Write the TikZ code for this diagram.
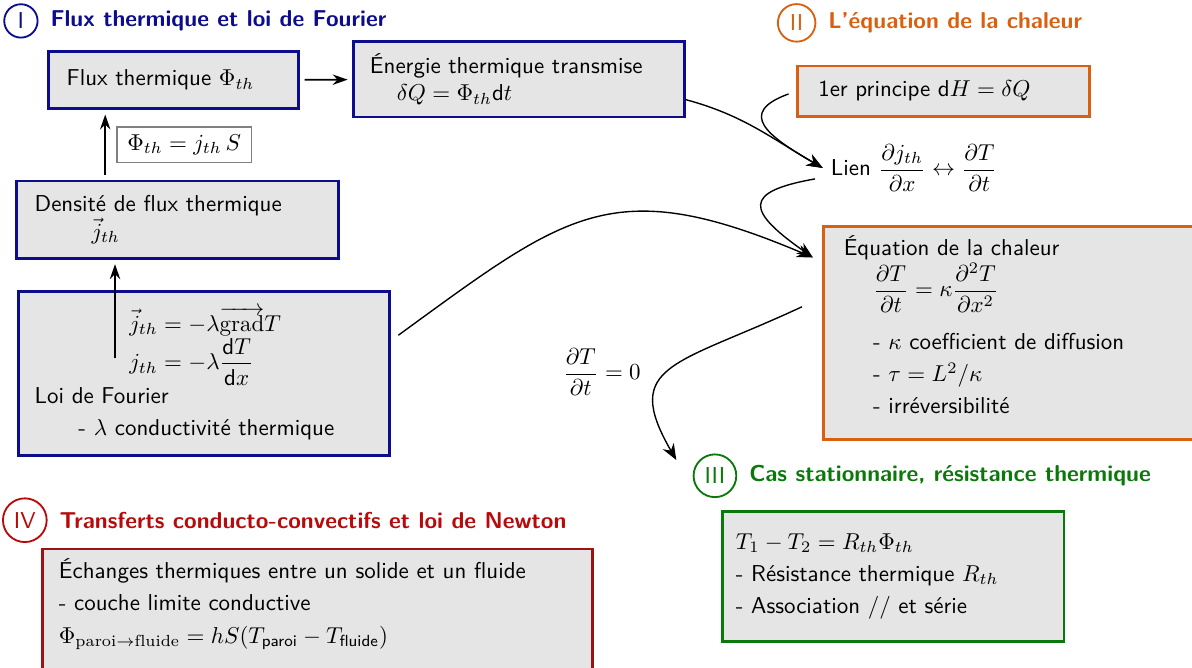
\documentclass[tikz,border=0pt]{standalone}
\usepackage{amsmath}
\usepackage{fontspec}
\renewcommand{\familydefault}{\sfdefault}
\usetikzlibrary{arrows.meta, positioning}
\definecolor{partI}{HTML}{0C0C8C}
\definecolor{partII}{HTML}{D9600F}
\definecolor{partIII}{HTML}{0A780A}
\definecolor{partIV}{HTML}{B80A0A}
\definecolor{bordIV}{HTML}{9A1414}

\begin{document}
\begin{tikzpicture}[
    bloc/.style={draw, fill=gray!20, line width=1.2pt, anchor=north west,
                 align=left, inner xsep=0.25cm, inner ysep=0.15cm},
    numero/.style={circle, draw, thick, inner sep=2.6pt},
    titre/.style={font=\bfseries},
    fleche/.style={-{Stealth[length=6.5pt, width=4.5pt]}, thick, shorten >=2pt, shorten <=2pt},
    courbe/.style={-{Stealth[length=7pt, width=5.5pt]}, semithick},
]
    \useasboundingbox (0,0) rectangle (18.24,-10.21);

    % I : flux thermique et loi de Fourier
    \node[numero, partI] (numI) at (0.32,-0.32) {I};
    \node[titre, partI, right=0.06cm of numI] (titreI) {Flux thermique et loi de Fourier};

    \node[bloc, draw=partI, text width=3.27cm, minimum height=0.87cm, inner xsep=0.28cm]
        (flux) at (0.72,-0.77) {Flux thermique $\Phi_{th}$};
    \node[bloc, draw=partI, text width=4.56cm, minimum height=1.16cm]
        (energie) at (5.39,-0.61)
        {Énergie thermique transmise\\ \hspace*{0.41cm}$\delta Q = \Phi_{th}\mathsf{d}t$};
    \node[bloc, draw=partI, text width=4.37cm, minimum height=1.18cm, inner xsep=0.28cm]
        (densite) at (0.23,-2.75)
        {Densité de flux thermique\\ \hspace*{0.87cm}$\vec{j}_{th}$};
    \node[bloc, draw=partI, text width=5.18cm, minimum height=2.51cm]
        (fourier) at (0.26,-4.44)
        {\hspace*{1.45cm}$\vec{j}_{th} = -\lambda\overrightarrow{\mathrm{grad}}T$\\
         \hspace*{1.45cm}$j_{th} = -\lambda\dfrac{\mathsf{d}T}{\mathsf{d}x}$\\
         Loi de Fourier\\[2pt]
         \hspace*{0.67cm}- $\lambda$ conductivité thermique};

    \coordinate (axe) at (1.61,0);
    \coordinate (depart) at (1.76,-5.48);
    \draw[fleche] (densite.north -| axe) -- node[right=0.17cm, draw=gray, semithick, fill=white, inner xsep=4.5pt] (relation)
        {$\Phi_{th} = j_{th}\,S$} (flux.south -| axe);
    \draw[fleche, shorten <=0pt] (depart) -- (densite.south -| depart);
    \draw[fleche] (flux) -- (energie);

    % II : equation de la chaleur
    \node[numero, partII] (numII) at (12.19,-0.35) {II};
    \node[titre, partII, right=0.06cm of numII] (titreII) {L'équation de la chaleur};

    \node[bloc, draw=partII, text width=3.83cm, minimum height=0.77cm, inner xsep=0.32cm]
        (principe) at (12.18,-0.99) {1er principe $\mathsf{d}H = \delta Q$};
    \node[anchor=west] (lien) at (12.59,-2.57)
        {Lien $\dfrac{\partial j_{th}}{\partial x} \leftrightarrow \dfrac{\partial T}{\partial t}$};
    \node[bloc, draw=partII, text width=5.5cm, inner xsep=0.31cm, text depth=2.66cm]
        (chaleur) at (12.58,-3.44)
        {Équation de la chaleur\\
         \hspace*{0.45cm}$\dfrac{\partial T}{\partial t} = \kappa\dfrac{\partial^2 T}{\partial x^2}$\\[8pt]
         \hspace*{0.45cm}- $\kappa$ coefficient de diffusion\\[2pt]
         \hspace*{0.45cm}- $\tau = L^2/\kappa$\\[2pt]
         \hspace*{0.45cm}- irréversibilité};

    \draw[courbe] (energie.-7) to[out=-15, in=150] (lien.west);
    \draw[courbe, shorten <=0.12cm] (principe.west) to[out=200, in=150, looseness=2] (lien.west);
    \draw[courbe, shorten <=0.12cm] (lien.186) to[out=190, in=145, looseness=2.6]
        ([shift={(-0.14,-0.5)}]chaleur.north west);
    \draw[courbe, shorten <=0.14cm] (fourier.10) to[out=36, in=157, looseness=1.3]
        ([shift={(-0.14,-0.5)}]chaleur.north west);

    % III : cas stationnaire
    \node (stat) at (9.21,-5.69) {$\dfrac{\partial T}{\partial t} = 0$};
    \node[numero, partIII] (numIII) at (10.94,-7.28) {III};
    \node[titre, partIII, right=0.06cm of numIII] (titreIII) {Cas stationnaire, résistance thermique};
    \draw[courbe, shorten <=0.34cm] (chaleur.170) to[out=205, in=120, out looseness=1.9, in looseness=1.3]
        ([xshift=-0.35cm]numIII.north west);

    \node[bloc, draw=partIII, text width=4.81cm, minimum height=2cm, inner xsep=0.21cm]
        (stationnaire) at (11.03,-7.80)
        {$T_1 - T_2 = R_{th}\Phi_{th}$\\[2pt]
         - Résistance thermique $R_{th}$\\[2pt]
         - Association // et série};

    % IV : conducto-convection
    \node[numero, partIV] (numIV) at (0.38,-7.96) {IV};
    \node[titre, partIV, right=0.06cm of numIV] (titreIV) {Transferts conducto-convectifs et loi de Newton};
    \node[bloc, draw=bordIV, text width=7.92cm, text depth=2cm]
        (newton) at (0.63,-8.38)
        {Échanges thermiques entre un solide et un fluide\\[2pt]
         - couche limite conductive\\[2pt]
         $\Phi_{\mathrm{paroi}\rightarrow\mathrm{fluide}} = hS(T_{\text{paroi}} - T_{\text{fluide}})$};
\end{tikzpicture}
\end{document}
